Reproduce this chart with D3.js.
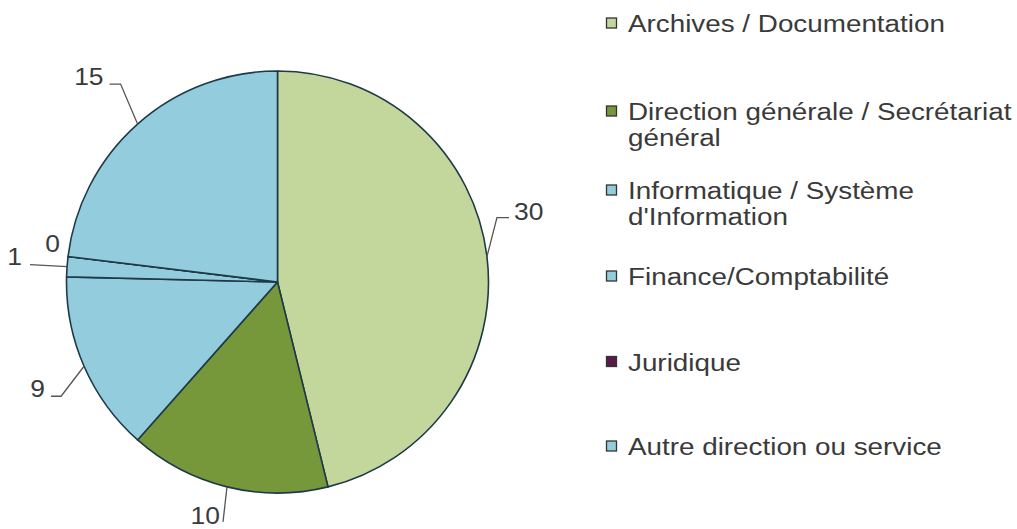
<!DOCTYPE html>
<html><head><meta charset="utf-8">
<script src="https://cdn.jsdelivr.net/npm/d3@7/dist/d3.min.js"></script>
<style>body{margin:0;background:#fff}svg{display:block}text{font-family:"Liberation Sans",Arial,sans-serif}</style>
</head><body><svg id="c" width="1017" height="529"></svg>
<script>
const categories = ["Archives / Documentation","Direction générale / Secrétariat général","Informatique / Système d'Information","Finance/Comptabilité","Juridique","Autre direction ou service"];
const legendLines = [["Archives / Documentation"],["Direction générale / Secrétariat","général"],["Informatique / Système","d'Information"],["Finance/Comptabilité"],["Juridique"],["Autre direction ou service"]];
const values = [30,10,9,1,0,15];
const colors = ["#c3d69b","#77983a","#93cddd","#93cddd","#5a1a4c","#93cddd"];
// leader layout: [elbow dx, elbow dy, horizontal dx, text anchor, text dx, baseline dy]
const leaders = [[10,-39,12,"start",5,2],[-4,35,0,"end",-3,2],[-23,30,-10,"end",-6,1],[-37,-2,0,"end",-8,0],[0,0,0,"end",-8,-5],[-17,-40,-11,"end",-6,1]];

const svg = d3.select("#c");
const cx = 277.5, cy = 282, r = 211;
const FS = 23;
// measure horizontal stretch so legend matches reference width
const probe = svg.append("text").attr("font-size",FS).text(legendLines[0][0]);
const sx = 317 / probe.node().getComputedTextLength();
probe.remove();

const g = svg.append("g").attr("transform",`translate(${cx},${cy})`);
const pie = d3.pie().sort(null).value(d=>d)(values);
const arc = d3.arc().innerRadius(0).outerRadius(r);
g.selectAll("path.s").data(pie).enter().append("path").attr("class","s")
  .attr("d",arc).attr("fill",(d,i)=>colors[i])
  .attr("stroke","#1e3a48").attr("stroke-width",1.6).attr("stroke-linejoin","round");

pie.forEach((d,i)=>{
  const a=(d.startAngle+d.endAngle)/2;
  const x0=r*Math.sin(a), y0=-r*Math.cos(a);
  const L=leaders[i];
  const x1=x0+L[0], y1=y0+L[1], x2=x1+L[2];
  if(L[0]||L[1]) g.append("polyline").attr("points",`${x0},${y0} ${x1},${y1} ${x2},${y1}`)
    .attr("fill","none").attr("stroke","#555").attr("stroke-width",1.3);
  g.append("text").attr("transform",`translate(${x2+L[4]},${y1+L[5]}) scale(${sx*0.95},1)`)
    .attr("text-anchor",L[3]).attr("font-size",FS).attr("fill","#3a3a3a").text(values[i]);
});

const ly=[23.5,111.5,190.5,276.5,362,446.5];
const lg=svg.append("g");
categories.forEach((c,i)=>{
  lg.append("rect").attr("x",606.5).attr("y",ly[i]-5.5).attr("width",10).attr("height",10)
    .attr("fill",colors[i]).attr("stroke","#333").attr("stroke-width",1.3);
  const t=lg.append("text").attr("transform",`translate(628,${ly[i]+8.5}) scale(${sx},1)`)
    .attr("font-size",FS).attr("fill","#3a3a3a");
  legendLines[i].forEach((s,j)=>t.append("tspan").attr("x",0).attr("dy",j?26:0).text(s));
});
</script></body></html>
